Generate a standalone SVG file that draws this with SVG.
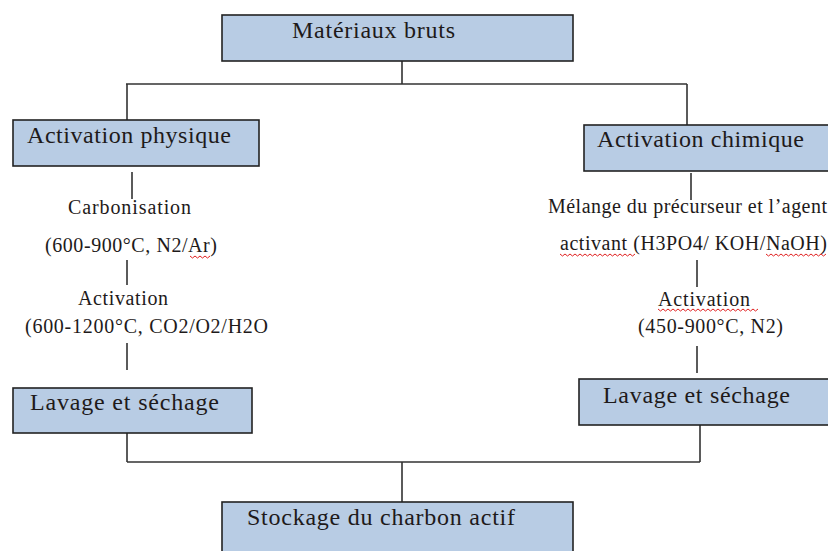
<svg xmlns="http://www.w3.org/2000/svg" width="828" height="551" viewBox="0 0 828 551">
<style>
.box{fill:#b8cce4;stroke:#222;stroke-width:1.6}
.ln{stroke:#333;stroke-width:1.6;fill:none}
.bt{font-family:"Liberation Serif","Times New Roman",serif;font-size:24px;fill:#1e1a1a}
.st{font-family:"Liberation Serif","Times New Roman",serif;font-size:20px;fill:#1e1a1a}
.sq{stroke:#e02020;stroke-width:1;fill:none}
</style>
<rect width="828" height="551" fill="#fff"/>
<g id="connectors">
<path class="ln" d="M402 61V84M126 84H687M127 84V120M687 84V125"/>
<path class="ln" d="M132 172V199M127 260V285M127 343V370M127 433V462"/>
<path class="ln" d="M691 173V200M697 260V287M697 346V373M700 425V462"/>
<path class="ln" d="M127 462H700M402 462V502"/>
</g>
<g id="n-materiaux">
<rect class="box" x="222" y="15" width="351" height="46"/>
<text class="bt" x="292" y="38" textLength="163" lengthAdjust="spacing">Matériaux bruts</text>
</g>
<g id="n-phys">
<rect class="box" x="13" y="120" width="246" height="46"/>
<text class="bt" x="27" y="143" textLength="204" lengthAdjust="spacing">Activation physique</text>
</g>
<g id="n-chim">
<rect class="box" x="584" y="125" width="260" height="46"/>
<text class="bt" x="597" y="147" textLength="207" lengthAdjust="spacing">Activation chimique</text>
</g>
<g id="t-carbo">
<text class="st" x="68" y="214" textLength="123" lengthAdjust="spacing">Carbonisation</text>
<text class="st" x="45" y="252" textLength="172" lengthAdjust="spacing">(600-900°C, N2/Ar)</text>
<path class="sq" d="M190 256l2.5 2 2.5-2 2.5 2 2.5-2 2.5 2 2.5-2 2.5 2 2.5-2"/>
</g>
<g id="t-activ-phys">
<text class="st" x="78" y="305" textLength="90" lengthAdjust="spacing">Activation</text>
<text class="st" x="25" y="333" textLength="243" lengthAdjust="spacing">(600-1200°C, CO2/O2/H2O</text>
</g>
<g id="t-melange">
<text class="st" x="548" y="213" textLength="279" lengthAdjust="spacing">Mélange du précurseur et l’agent</text>
<text class="st" x="560" y="250" textLength="267" lengthAdjust="spacing">activant (H3PO4/ KOH/NaOH)</text>
<path class="sq" d="M560 254l2.5 2 2.5-2 2.5 2 2.5-2 2.5 2 2.5-2 2.5 2 2.5-2 2.5 2 2.5-2 2.5 2 2.5-2 2.5 2 2.5-2 2.5 2 2.5-2 2.5 2 2.5-2 2.5 2 2.5-2 2.5 2 2.5-2 2.5 2 2.5-2 2.5 2 2.5-2 2.5 2 2.5-2 2.5 2 2.5-2"/>
<path class="sq" d="M766 254l2.5 2 2.5-2 2.5 2 2.5-2 2.5 2 2.5-2 2.5 2 2.5-2 2.5 2 2.5-2 2.5 2 2.5-2 2.5 2 2.5-2 2.5 2 2.5-2 2.5 2 2.5-2 2.5 2 2.5-2 2.5 2 2.5-2 2.5 2 2.5-2"/>
</g>
<g id="t-activ-chim">
<text class="st" x="658" y="306" textLength="92" lengthAdjust="spacing">Activation</text>
<path class="sq" d="M658 309l2.5 2 2.5-2 2.5 2 2.5-2 2.5 2 2.5-2 2.5 2 2.5-2 2.5 2 2.5-2 2.5 2 2.5-2 2.5 2 2.5-2 2.5 2 2.5-2 2.5 2 2.5-2 2.5 2 2.5-2 2.5 2 2.5-2 2.5 2 2.5-2 2.5 2 2.5-2 2.5 2 2.5-2 2.5 2 2.5-2 2.5 2 2.5-2 2.5 2 2.5-2 2.5 2 2.5-2 2.5 2 2.5-2 2.5 2 2.5-2"/>
<text class="st" x="638" y="333" textLength="145" lengthAdjust="spacing">(450-900°C, N2)</text>
</g>
<g id="n-lavage-l">
<rect class="box" x="13" y="388" width="239" height="45"/>
<text class="bt" x="30" y="410" textLength="189" lengthAdjust="spacing">Lavage et séchage</text>
</g>
<g id="n-lavage-r">
<rect class="box" x="579" y="379" width="265" height="46"/>
<text class="bt" x="603" y="403" textLength="187" lengthAdjust="spacing">Lavage et séchage</text>
</g>
<g id="n-stockage">
<rect class="box" x="222" y="502" width="351" height="60"/>
<text class="bt" x="247" y="525" textLength="268" lengthAdjust="spacing">Stockage du charbon actif</text>
</g>
</svg>
